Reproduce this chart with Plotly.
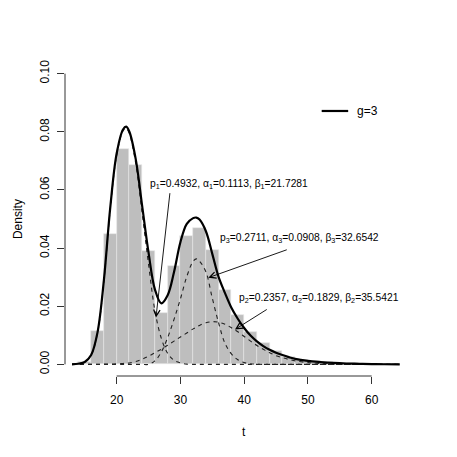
import plotly.graph_objects as go

# histogram (bin width 2), densities
bin_left = [14, 16, 18, 20, 22, 24, 26, 28, 30, 32, 34, 36, 38, 40, 42, 44, 46, 48, 50, 52, 54, 56, 58, 60, 62]
hist_density = [0.0008, 0.0115, 0.0448, 0.0740, 0.0686, 0.0389, 0.0175, 0.0338, 0.0441, 0.0468, 0.0395,
                0.0255, 0.0169, 0.0111, 0.0075, 0.0045, 0.0025, 0.0015, 0.0010, 0.0008, 0.0005, 0.0004,
                0.0002, 0.0002, 0.0001]

# fitted curves
t = [13, 14, 15, 16, 17, 18, 19, 20, 21, 21.5, 22, 23, 24, 25, 26, 27, 28, 29, 30, 31, 32, 32.5, 33, 34,
     35, 36, 37, 38, 39, 40, 41, 42, 43, 44, 45, 46, 47, 48, 50, 52, 54, 56, 58, 60, 62, 64.4]
mixture = [0.0, 0.0002, 0.0008, 0.0032, 0.0110, 0.0290, 0.0540, 0.0725, 0.0808, 0.0818, 0.0800, 0.0705,
           0.0545, 0.0385, 0.0258, 0.0210, 0.0238, 0.0318, 0.0420, 0.0483, 0.0503, 0.0505, 0.0498, 0.0458,
           0.0380, 0.0300, 0.0245, 0.0195, 0.0157, 0.0125, 0.0099, 0.0079, 0.0063, 0.0050, 0.0040, 0.0032,
           0.0025, 0.0019, 0.0012, 0.0008, 0.0005, 0.0003, 0.0002, 0.0001, 0.00005, 0.0]
comp1 = [0.0, 0.0002, 0.0008, 0.0032, 0.0108, 0.0287, 0.0535, 0.0718, 0.0803, 0.0812, 0.0793, 0.0690,
         0.0520, 0.0345, 0.0185, 0.0090, 0.0038, 0.0014, 0.0005, 0.0001, 0.0, 0.0, 0.0, 0.0,
         0.0, 0.0, 0.0, 0.0, 0.0, 0.0, 0.0, 0.0, 0.0, 0.0, 0.0, 0.0,
         0.0, 0.0, 0.0, 0.0, 0.0, 0.0, 0.0, 0.0, 0.0, 0.0]
comp2 = [0.0, 0.0, 0.0, 0.0, 0.0, 0.0001, 0.0001, 0.0002, 0.0003, 0.0004, 0.0005, 0.0010,
         0.0018, 0.0028, 0.0040, 0.0052, 0.0066, 0.0080, 0.0094, 0.0108, 0.0122, 0.0128, 0.0134, 0.0143,
         0.0147, 0.0145, 0.0138, 0.0126, 0.0112, 0.0096, 0.0080, 0.0065, 0.0052, 0.0040, 0.0030, 0.0023,
         0.0017, 0.0012, 0.0006, 0.0003, 0.00015, 0.0001, 0.0, 0.0, 0.0, 0.0]
comp3 = [0.0, 0.0, 0.0, 0.0, 0.0, 0.0, 0.0, 0.0, 0.0, 0.0, 0.0, 0.0,
         0.0, 0.0, 0.0012, 0.0042, 0.0092, 0.0155, 0.0225, 0.0302, 0.0355, 0.0363, 0.0355, 0.0318,
         0.0228, 0.0142, 0.0072, 0.0036, 0.0016, 0.0006, 0.0002, 0.0001, 0.0, 0.0, 0.0, 0.0,
         0.0, 0.0, 0.0, 0.0, 0.0, 0.0, 0.0, 0.0, 0.0, 0.0]

labels = [
    "p<sub>1</sub>=0.4932, α<sub>1</sub>=0.1113, β<sub>1</sub>=21.7281",
    "p<sub>3</sub>=0.2711, α<sub>3</sub>=0.0908, β<sub>3</sub>=32.6542",
    "p<sub>2</sub>=0.2357, α<sub>2</sub>=0.1829, β<sub>2</sub>=35.5421",
]
legend_label = "g=3"

FONT = "Liberation Sans, Arial, sans-serif"

fig = go.Figure()
fig.add_trace(go.Bar(
    x=[b + 1 for b in bin_left], y=hist_density, width=2,
    marker=dict(color="#bebebe", line=dict(color="#e6e6e6", width=0.6)),
    showlegend=False, hoverinfo="skip"))

for comp in (comp1, comp2, comp3):
    fig.add_trace(go.Scatter(x=t, y=comp, mode="lines", line_shape="spline",
                             line=dict(color="#222222", width=1.1, dash="4px,4px"),
                             showlegend=False))

fig.add_trace(go.Scatter(x=t, y=mixture, mode="lines", line_shape="spline",
                         line=dict(color="black", width=2.2), name=legend_label, showlegend=False))

# labels with arrows (text, then arrow from below the text to the component curve)
text_pos = [(24.9, 0.0617), (35.94, 0.0433), (38.92, 0.0227)]
arrow_tail = [(28.38, 0.0594), (46.92, 0.0396), (43.78, 0.0192)]
arrow_tip = [(26.17, 0.0161), (34.37, 0.0298), (38.56, 0.0120)]
for lab, (tx, ty), (ax, ay), (hx, hy) in zip(labels, text_pos, arrow_tail, arrow_tip):
    fig.add_annotation(x=tx, y=ty, text=lab, showarrow=False, xanchor="left", yanchor="middle",
                       font=dict(family=FONT, size=10.3, color="black"))
    fig.add_annotation(x=hx, y=hy, ax=ax, ay=ay, axref="x", ayref="y", text="",
                       showarrow=True, arrowhead=5, arrowsize=1.4, arrowwidth=0.9,
                       arrowcolor="black", standoff=0, startstandoff=0)

# legend drawn R-style: short line plus label
fig.add_shape(type="line", xref="paper", yref="paper", x0=0.717, x1=0.791, y0=0.844, y1=0.844,
              line=dict(color="black", width=2.2))
fig.add_annotation(x=0.810, y=0.844, xref="paper", yref="paper", text=legend_label, showarrow=False,
                   xanchor="left", yanchor="middle", font=dict(family=FONT, size=12))

# axis titles
fig.add_annotation(x=0.5, y=-0.177, xref="paper", yref="paper", text="t", showarrow=False,
                   xanchor="center", yanchor="middle", font=dict(family=FONT, size=12))
fig.add_annotation(x=-0.131, y=0.5, xref="paper", yref="paper", text="Density", showarrow=False,
                   textangle=-90, xanchor="center", yanchor="middle", font=dict(family=FONT, size=12))

# R-style axis lines spanning only the tick range
fig.add_shape(type="line", xref="x", yref="paper", x0=20, x1=60, y0=0, y1=0,
              line=dict(color="#333333", width=1))
fig.add_shape(type="line", xref="paper", yref="y", x0=0, x1=0, y0=0, y1=0.10,
              line=dict(color="#333333", width=1))

# page body keeps an 8px margin, so the figure is 8px smaller than the window
fig.update_layout(
    width=449, height=449,
    margin=dict(l=57, r=34, t=54, b=81, autoexpand=False),
    plot_bgcolor="white", paper_bgcolor="white",
    bargap=0,
    font=dict(family=FONT, size=12, color="black"),
    xaxis=dict(range=[11.9, 68.05], tickvals=[20, 30, 40, 50, 60], ticks="outside", ticklen=7,
               tickcolor="#333333", showgrid=False, zeroline=False, showline=False,
               automargin=False, ticklabelstandoff=6, tickfont=dict(size=12)),
    yaxis=dict(range=[-0.004, 0.104], tickvals=[0, 0.02, 0.04, 0.06, 0.08, 0.10],
               ticktext=["0.00", "0.02", "0.04", "0.06", "0.08", "0.10"], tickangle=-90,
               ticks="outside", ticklen=7, tickcolor="#333333", showgrid=False, zeroline=False,
               showline=False, automargin=False, ticklabelstandoff=3, tickfont=dict(size=12)),
)

fig.write_html("out.html")
